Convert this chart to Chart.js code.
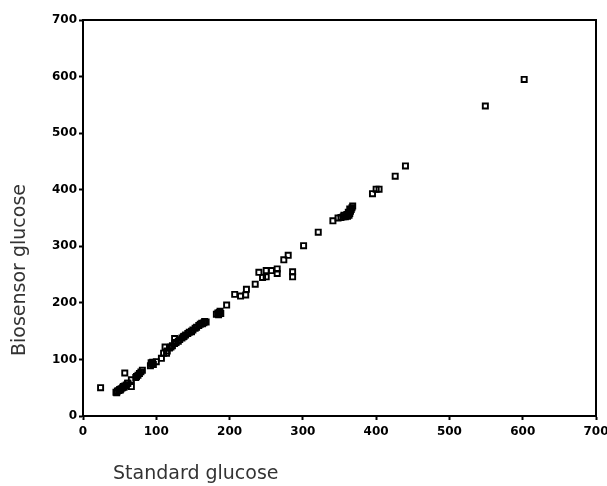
<!DOCTYPE html>
<html>
<head>
<meta charset="utf-8">
<script src="https://cdn.jsdelivr.net/npm/chart.js@4/dist/chart.umd.min.js"></script>
<style>
  html, body { margin: 0; padding: 0; background: #fff; }
  #wrap { width: 607px; height: 486px; }
</style>
</head>
<body>
<div id="wrap"><canvas id="c" width="607" height="486"></canvas></div>
<script>
// Data
const standardGlucose = [
  24,
  45, 47, 49, 50, 52, 54, 55, 57, 59, 61, 46, 51, 56,
  57, 66, 66, 61,
  72, 75, 77, 79, 81, 73,
  92, 94, 95, 93, 96,
  100, 107, 110, 112,
  114, 125, 137, 148, 162, 166,
  115, 118, 120, 122, 125, 127, 130, 132, 135, 138, 140, 143, 145, 148, 150, 153, 155, 158, 160, 163, 165, 168,
  182, 184, 186, 188, 185, 187,
  196, 207, 215, 222, 223, 235, 240, 245, 250, 250, 257, 265, 265, 274, 280, 286, 286,
  301, 321, 341,
  348, 352, 355, 358, 361, 363, 364, 365, 366, 367, 368, 362, 360, 356, 364,
  395, 400, 404, 426, 440, 549, 602
];
const biosensorGlucose = [
  50,
  42, 44, 45, 47, 48, 50, 52, 53, 55, 58, 41, 46, 51,
  76, 64, 52, 58,
  68, 72, 75, 78, 81, 70,
  89, 92, 95, 94, 91,
  96, 102, 111, 122,
  111, 137, 140, 149, 164, 167,
  115, 120, 122, 124, 128, 130, 132, 135, 138, 141, 143, 146, 148, 150, 152, 155, 157, 160, 162, 163, 165, 166,
  180, 182, 183, 181, 179, 185,
  196, 215, 212, 214, 224, 233, 254, 245, 246, 257, 257, 260, 252, 276, 284, 255, 246,
  301, 325, 345,
  350, 351, 352, 352, 353, 355, 358, 362, 365, 368, 371, 360, 356, 355, 366,
  393, 401, 401, 424, 442, 548, 595
];
const axisTicks = [0, 100, 200, 300, 400, 500, 600, 700];
const xTitle = 'Standard glucose';
const yTitle = 'Biosensor glucose';

const points = standardGlucose.map((x, i) => ({ x: x, y: biosensorGlucose[i] }));

const frameAndTitles = {
  id: 'frameAndTitles',
  afterDraw(chart) {
    const ctx = chart.ctx;
    const a = chart.chartArea;
    ctx.save();
    ctx.strokeStyle = '#000';
    ctx.lineWidth = 2;
    ctx.beginPath();
    ctx.moveTo(a.left, a.top);
    ctx.lineTo(a.right, a.top);
    ctx.lineTo(a.right, a.bottom);
    ctx.stroke();

    ctx.fillStyle = '#333';
    ctx.font = '19px "DejaVu Sans"';
    ctx.textAlign = 'left';
    ctx.textBaseline = 'alphabetic';
    ctx.fillText(xTitle, 113, 479);

    ctx.translate(25, 270);
    ctx.rotate(-Math.PI / 2);
    ctx.textAlign = 'center';
    ctx.fillText(yTitle, 0, 0);
    ctx.restore();
  }
};

const tickFont = { family: '"DejaVu Sans"', size: 12, weight: 'bold' };

new Chart(document.getElementById('c'), {
  type: 'scatter',
  data: {
    datasets: [{
      data: points,
      pointStyle: 'rect',
      pointRadius: 3.6,
      pointHoverRadius: 3.6,
      pointBorderWidth: 1.9,
      pointBorderColor: '#000',
      pointBackgroundColor: 'rgba(0,0,0,0)'
    }]
  },
  options: {
    responsive: false,
    animation: false,
    events: [],
    layout: { padding: { top: 20, right: 11, left: 0, bottom: 0 } },
    plugins: { legend: { display: false }, tooltip: { enabled: false } },
    scales: {
      x: {
        type: 'linear',
        min: 0, max: 700,
        afterFit(s) { s.height = 70; s.paddingLeft = 0; s.paddingRight = 0; },
        afterBuildTicks(s) { s.ticks = axisTicks.map(v => ({ value: v })); },
        grid: { display: true, drawOnChartArea: false, drawTicks: true, tickLength: 4, tickColor: '#000', tickWidth: 2 },
        border: { display: true, color: '#000', width: 2 },
        ticks: { color: '#000', font: tickFont, padding: 5, maxRotation: 0 }
      },
      y: {
        type: 'linear',
        min: 0, max: 700,
        afterFit(s) { s.width = 83; s.paddingTop = 0; s.paddingBottom = 0; },
        afterBuildTicks(s) { s.ticks = axisTicks.map(v => ({ value: v })); },
        grid: { display: true, drawOnChartArea: false, drawTicks: true, tickLength: 4, tickColor: '#000', tickWidth: 2 },
        border: { display: true, color: '#000', width: 2 },
        ticks: { color: '#000', font: tickFont, padding: 2 }
      }
    }
  },
  plugins: [frameAndTitles]
});
</script>
</body>
</html>
